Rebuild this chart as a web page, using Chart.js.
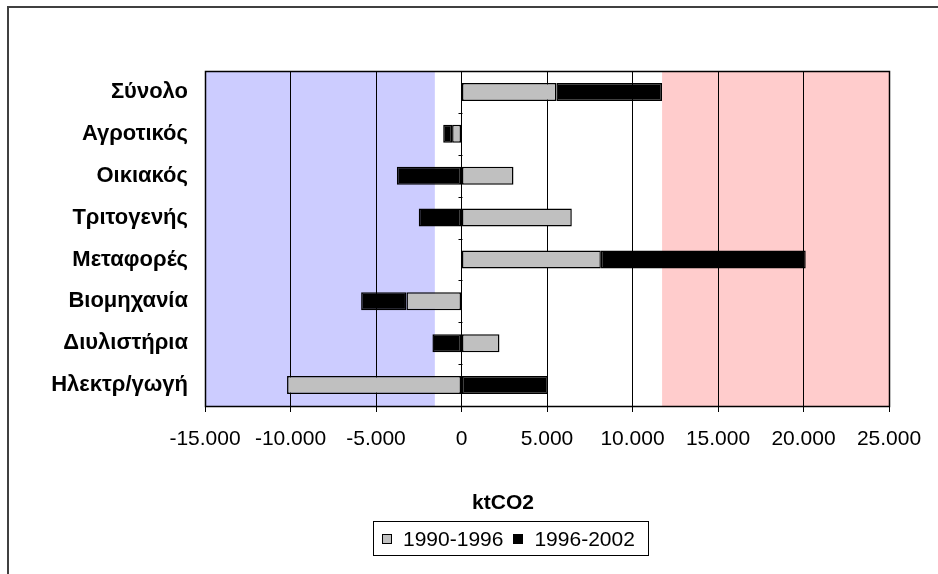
<!DOCTYPE html>
<html>
<head>
<meta charset="utf-8">
<script src="https://cdn.jsdelivr.net/npm/chart.js@4"></script>
<style>
html,body{margin:0;padding:0;background:#fff;}
#wrap{position:relative;width:938px;height:574px;overflow:hidden;background:#fff;}
#frame{position:absolute;left:7px;top:6px;right:-10px;bottom:-10px;border-left:2px solid #404040;border-top:2px solid #404040;pointer-events:none;}
canvas{position:absolute;left:0;top:0;}
#xtitle{position:absolute;left:403px;width:200px;top:490px;line-height:24px;text-align:center;font:bold 21px "Liberation Sans",Arial,sans-serif;color:#000;}
#legend{position:absolute;left:373px;top:521px;width:276px;height:35px;border:1px solid #000;box-sizing:border-box;font:21px "Liberation Sans",Arial,sans-serif;color:#000;display:flex;align-items:center;padding-left:8px;white-space:nowrap;}
#legend .sw{display:inline-block;width:8px;height:8px;border:1px solid #000;margin-right:11px;}
#legend .it{display:flex;align-items:center;margin-right:10px;}
</style>
</head>
<body>
<div id="wrap">
  <canvas id="c" width="938" height="574"></canvas>
  <div id="frame"></div>
  <div id="xtitle"></div>
  <div id="legend"></div>
</div>
<script>
// ---- data ----
const categories = ['Σύνολο','Αγροτικός','Οικιακός','Τριτογενής','Μεταφορές','Βιομηχανία','Διυλιστήρια','Ηλεκτρ/γωγή'];
const seriesNames = ['1990-1996','1996-2002'];
const change1990_1996 = [5550, -550, 3040, 6450, 8150, -3220, 2220, -10200];
const change1996_2002 = [6180, -520, -3780, -2500, 11980, -2650, -1700, 5060];
const xTickLabels = ['-15.000','-10.000','-5.000','0','5.000','10.000','15.000','20.000','25.000'];
const xAxisTitle = 'ktCO2';
const lowBand = [-15000, -1560];
const highBand = [11730, 25000];

const seriesColors = ['#C0C0C0', '#000000'];

// HTML title and legend
document.getElementById('xtitle').textContent = xAxisTitle;
const lg = document.getElementById('legend');
seriesNames.forEach((n, i) => {
  const it = document.createElement('span'); it.className = 'it';
  const sw = document.createElement('span'); sw.className = 'sw'; sw.style.background = seriesColors[i];
  const tx = document.createElement('span'); tx.textContent = n;
  it.appendChild(sw); it.appendChild(tx); lg.appendChild(it);
});

const decor = {
  id: 'decor',
  beforeDraw(chart) {
    const {ctx, chartArea: a, scales: {x}} = chart;
    ctx.save();
    const band = (r, col) => {
      const x0 = x.getPixelForValue(r[0]), x1 = x.getPixelForValue(r[1]);
      ctx.fillStyle = col;
      ctx.fillRect(Math.min(x0, x1), a.top, Math.abs(x1 - x0), a.bottom - a.top);
    };
    band(lowBand, '#CCCCFF');
    band(highBand, '#FFCCCC');
    ctx.restore();
  },
  afterDraw(chart) {
    const {ctx, chartArea: a, scales: {x, y}} = chart;
    ctx.save();
    ctx.strokeStyle = '#000';
    ctx.lineWidth = 1.5;
    ctx.strokeRect(Math.round(a.left) + 0.5, Math.round(a.top) + 0.5, Math.round(a.right - a.left), Math.round(a.bottom - a.top));
    // category boundary tick marks at the zero line
    const x0 = Math.round(x.getPixelForValue(0)) + 0.5;
    ctx.lineWidth = 1;
    for (let i = 0; i <= categories.length; i++) {
      const yy = Math.round(y.getPixelForValue(i - 0.5)) + 0.5;
      ctx.beginPath();
      ctx.moveTo(x0 - 4, yy);
      ctx.lineTo(x0, yy);
      ctx.stroke();
    }
    ctx.restore();
  }
};

new Chart(document.getElementById('c'), {
  type: 'bar',
  data: {
    labels: categories,
    datasets: [
      { label: seriesNames[0], data: change1990_1996, backgroundColor: seriesColors[0], borderColor: '#000', borderWidth: 1.5, borderSkipped: false },
      { label: seriesNames[1], data: change1996_2002, backgroundColor: seriesColors[1], borderColor: '#000', borderWidth: 1.5, borderSkipped: false }
    ]
  },
  options: {
    indexAxis: 'y',
    responsive: false,
    animation: false,
    events: [],
    barPercentage: 0.43,
    categoryPercentage: 1,
    layout: { padding: { left: 0, right: 49, top: 71, bottom: 128 } },
    plugins: { legend: { display: false }, tooltip: { enabled: false }, title: { display: false } },
    scales: {
      x: {
        stacked: true,
        min: -15000, max: 25000,
        afterFit(s) { s.height = 40; },
        ticks: {
          stepSize: 5000, autoSkip: false, maxRotation: 0, minRotation: 0,
          padding: 15, color: '#000',
          font: { family: '"Liberation Sans", Arial, sans-serif', size: 21 },
          callback: (v, i) => xTickLabels[i]
        },
        grid: { color: '#000', lineWidth: 1, drawTicks: true, tickLength: 6, tickColor: '#000' },
        border: { display: true, color: '#000', width: 1 }
      },
      y: {
        stacked: true,
        afterFit(s) { s.width = 205; },
        ticks: {
          padding: 17, color: '#000',
          font: { family: '"Liberation Sans", Arial, sans-serif', size: 22, weight: 'bold' }
        },
        grid: { display: false, drawTicks: false },
        border: { display: true, color: '#000', width: 1 }
      }
    }
  },
  plugins: [decor]
});
</script>
</body>
</html>
